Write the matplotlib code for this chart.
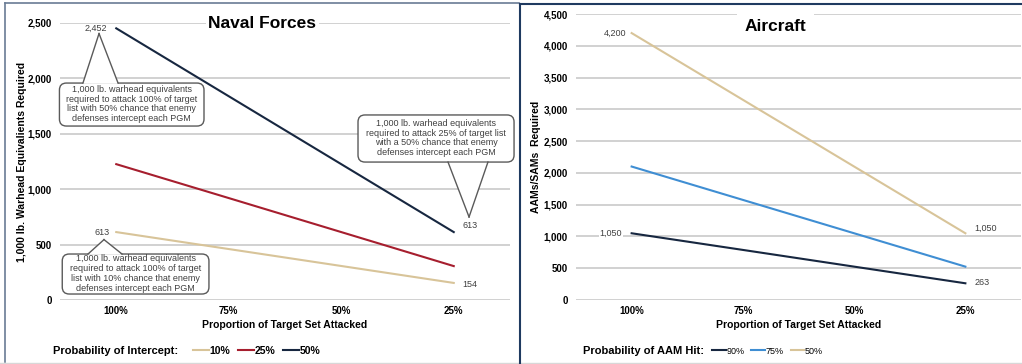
import matplotlib
matplotlib.use("Agg")
import matplotlib.pyplot as plt
from matplotlib.patches import FancyBboxPatch, Polygon
from matplotlib.lines import Line2D

plt.rcParams['font.family'] = ['Liberation Sans', 'DejaVu Sans']

# Shared category axis
categories = ["100%", "75%", "50%", "25%"]

# Naval forces: 1,000 lb. warhead equivalents by probability of intercept
naval_10 = [613, 460, 307, 154]
naval_25 = [1226, 920, 613, 306]
naval_50 = [2452, 1839, 1226, 613]
naval_labels = ["10%", "25%", "50%"]

# Aircraft: AAMs/SAMs required by probability of AAM hit
air_90 = [1050, 788, 525, 263]
air_75 = [2100, 1575, 1050, 525]
air_50 = [4200, 3150, 2100, 1050]
air_labels = ["90%", "75%", "50%"]

TAN = "#D8C499"
RED = "#A61E2E"
NAVY = "#172740"
BLUE = "#3F8ED3"
GRID = "#C9C9C9"
LABEL_GRAY = "#404040"
EDGE = "#5a5a5a"

W, H = 1022, 364
fig = plt.figure(figsize=(W / 100, H / 100), dpi=100)


def px_axes(x0, x1, y_top, y_bottom):
    return fig.add_axes([x0 / W, 1 - y_bottom / H, (x1 - x0) / W, (y_bottom - y_top) / H])


def style_axes(ax, ymax, ystep):
    x = range(len(categories))
    ax.set_xlim(-0.5, len(categories) - 0.5)
    ax.set_ylim(0, ymax)
    ax.set_xticks(list(x))
    ax.set_xticklabels(categories, fontsize=7, fontweight="bold")
    ticks = list(range(0, ymax + 1, ystep))
    ax.set_yticks(ticks)
    ax.set_yticklabels([f"{t:,}" for t in ticks], fontsize=7, fontweight="bold")
    for s in ax.spines.values():
        s.set_visible(False)
    ax.tick_params(length=0, pad=6)
    ax.tick_params(axis="x", pad=4)
    ax.grid(axis="y", color=GRID, linewidth=1.2, zorder=0)
    ax.set_axisbelow(True)
    ax.patch.set_alpha(0)


# Overlay in pixel units for the callout boxes
overlay = fig.add_axes([0, 0, 1, 1], zorder=10)
overlay.set_xlim(0, W)
overlay.set_ylim(0, H)
overlay.axis("off")
overlay.patch.set_alpha(0)


def callout(ax, box, tip, base, text):
    """Rounded speech box with a pointer; box=(x0, y0, x1, y1), data coords."""
    to_px = ax.transData.transform
    (x0, y0), (x1, y1) = to_px((box[0], box[1])), to_px((box[2], box[3]))
    tx, ty = to_px(tip)
    (b0, yb), (b1, _) = to_px((base[0], base[2])), to_px((base[1], base[2]))
    r = 6
    rect = FancyBboxPatch((x0 + r, y0 + r), (x1 - x0) - 2 * r, (y1 - y0) - 2 * r,
                          boxstyle=f"round,pad={r},rounding_size={r + 1}",
                          facecolor="white", edgecolor=EDGE, linewidth=1.0,
                          zorder=1)
    overlay.add_patch(rect)
    tri = Polygon([(b0, yb - 0.8), (tx, ty), (b1, yb - 0.8)], closed=True,
                  facecolor="white", edgecolor="none", zorder=2)
    overlay.add_patch(tri)
    for bx in (b0, b1):
        overlay.add_line(Line2D([bx, tx], [yb, ty], color=EDGE, linewidth=1.0,
                                zorder=3))
    overlay.text((x0 + x1) / 2, (y0 + y1) / 2 + 0.5, text, ha="center",
                 va="center", fontsize=6.5, color=LABEL_GRAY, linespacing=1.1,
                 zorder=4)


def value_label(ax, x, y, val, ha, **kw):
    ax.text(x, y, f"{val:,}", ha=ha, va="center", fontsize=6.5,
            color=LABEL_GRAY, zorder=8, **kw)


# ---------------- Naval Forces ----------------
ax1 = px_axes(60, 510, 23, 300)
style_axes(ax1, 2500, 500)
xs = range(len(categories))
for vals, color in zip([naval_10, naval_25, naval_50], [TAN, RED, NAVY]):
    ax1.plot(xs, vals, color=color, linewidth=1.5, zorder=3)
ax1.set_ylabel("1,000 lb. Warhead Equivalients Required", fontsize=7.5,
               fontweight="bold", labelpad=0.5)
ax1.set_xlabel("Proportion of Target Set Attacked", fontsize=7.5,
               fontweight="bold", labelpad=3)
ax1.text(0.45, 1.0, "Naval Forces", transform=ax1.transAxes, ha="center",
         va="center", fontsize=12.5, fontweight="bold", zorder=9,
         bbox=dict(boxstyle="square,pad=0.12", facecolor="white", edgecolor="none"))

value_label(ax1, -0.085, naval_50[0], naval_50[0], "right")
value_label(ax1, -0.06, naval_10[0], naval_10[0], "right")
value_label(ax1, 3.08, naval_50[3] + 60, naval_50[3], "left")
value_label(ax1, 3.08, naval_10[3] - 15, naval_10[3], "left")

callout(ax1, (-0.505, 1570, 0.78, 1958), (-0.153, 2405), (-0.296, 0.016, 1958),
        "1,000 lb. warhead equivalents\nrequired to attack 100% of target\n"
        "list with 50% chance that enemy\ndefenses intercept each PGM")
callout(ax1, (-0.48, 54, 0.824, 415), (-0.109, 545), (-0.251, 0.051, 415),
        "1,000 lb. warhead equivalents\nrequired to attack 100% of target\n"
        "list with 10% chance that enemy\ndefenses intercept each PGM")
callout(ax1, (2.149, 1245, 3.536, 1670), (3.136, 749), (2.949, 3.304, 1245),
        "1,000 lb. warhead equivalents\nrequired to attack 25% of target list\n"
        "with a 50% chance that enemy\ndefenses intercept each PGM")

# ---------------- Aircraft ----------------
ax2 = px_axes(576, 1021, 14, 300)
style_axes(ax2, 4500, 500)
for vals, color in zip([air_90, air_75, air_50], [NAVY, BLUE, TAN]):
    ax2.plot(xs, vals, color=color, linewidth=1.5, zorder=3)
ax2.set_ylabel("AAMs/SAMs  Required", fontsize=7.5, fontweight="bold", labelpad=2)
ax2.set_xlabel("Proportion of Target Set Attacked", fontsize=7.5,
               fontweight="bold", labelpad=3)
ax2.text(0.448, 0.955, "Aircraft", transform=ax2.transAxes, ha="center",
         va="center", fontsize=12.5, fontweight="bold", zorder=9,
         bbox=dict(boxstyle="square,pad=0.42", facecolor="white", edgecolor="none"))

value_label(ax2, -0.05, air_50[0], air_50[0], "right")
value_label(ax2, -0.085, air_90[0], air_90[0], "right",
            bbox=dict(boxstyle="square,pad=0.1", facecolor="white", edgecolor="none"))
value_label(ax2, 3.08, air_50[3] + 80, air_50[3], "left")
value_label(ax2, 3.08, air_90[3] + 20, air_90[3], "left")

# ---------------- Legends ----------------
fig.text(53 / W, 1 - 351 / H, "Probability of Intercept:", fontsize=8,
         fontweight="bold", va="center", ha="left")
h1 = [Line2D([], [], color=c, linewidth=1.5) for c in (TAN, RED, NAVY)]
fig.legend(h1, naval_labels, loc="center left",
           bbox_to_anchor=(193 / W, 1 - 351 / H), ncol=3, frameon=False,
           handlelength=1.5, handletextpad=0.1, columnspacing=0.75,
           borderaxespad=0, borderpad=0,
           prop={"size": 7.5, "weight": "bold"})

fig.text(583 / W, 1 - 351 / H, "Probability of AAM Hit:", fontsize=8,
         fontweight="bold", va="center", ha="left")
h2 = [Line2D([], [], color=c, linewidth=1.5) for c in (NAVY, BLUE, TAN)]
fig.legend(h2, air_labels, loc="center left",
           bbox_to_anchor=(712 / W, 1 - 351 / H), ncol=3, frameon=False,
           handlelength=1.5, handletextpad=0.1, columnspacing=0.75,
           borderaxespad=0, borderpad=0,
           prop={"size": 6.5})

# ---------------- Panel frames ----------------
def fline(x0, y0, x1, y1, color, lw):
    fig.add_artist(Line2D([x0 / W, x1 / W], [1 - y0 / H, 1 - y1 / H],
                          transform=fig.transFigure, color=color, linewidth=lw))

fline(5, 3, 5, 362, "#6A7C95", 1.2)
fline(5, 3, 519, 3, "#6A7C95", 1.2)
fline(0, 362.5, W, 362.5, "#D8D8D8", 1.0)
fline(520, 3.5, 520, H, "#1F3A60", 1.5)
fline(520, 3.5, W, 3.5, "#1F3A60", 1.5)

fig.savefig("out.png", dpi=100)
